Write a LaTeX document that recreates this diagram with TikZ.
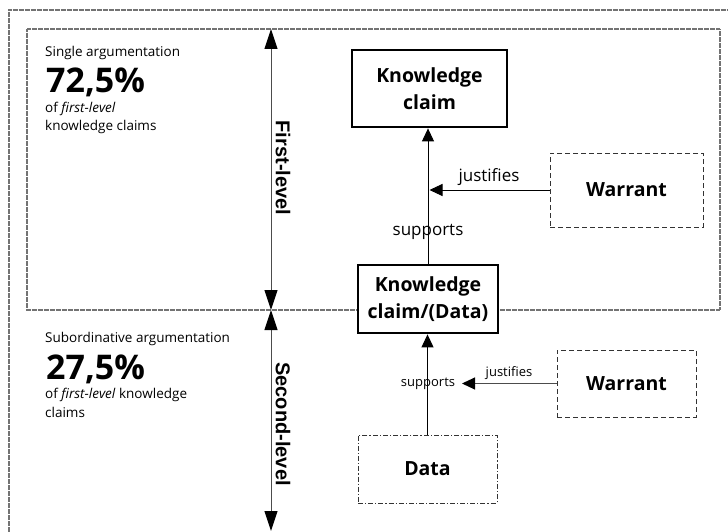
\documentclass[tikz,border=0pt]{standalone}
\usepackage{fontspec}
\setmainfont{Open Sans}
\newfontfamily\levelfont{Liberation Sans}
\usetikzlibrary{arrows.meta}

\tikzset{
  frame/.style={draw=black!55, line width=1.1pt, dash pattern=on 0.7pt off 0.5pt},
  claimbox/.style={draw, line width=2.8pt, align=center, inner sep=0pt,
    font=\fontsize{19.5}{27}\selectfont\bfseries},
  warrantbox/.style={draw=black!80, line width=1pt, dash pattern=on 5pt off 3pt,
    align=center, inner sep=0pt, font=\fontsize{19.5}{27}\selectfont\bfseries},
  databox/.style={draw=black!80, line width=1pt, dash pattern=on 5pt off 2pt on 1.2pt off 2pt,
    align=center, inner sep=0pt, font=\fontsize{19.5}{27}\selectfont\bfseries},
  levelarrow/.style={draw=black!70, line width=1pt,
    {Triangle[length=20pt,width=13pt,color=black]}-{Triangle[length=20pt,width=13pt,color=black]}},
  levellabel/.style={font=\levelfont\fontsize{20}{24}\selectfont\bfseries, rotate=-90, inner sep=0pt},
  link/.style={draw, line width=1pt, -{Triangle[length=13pt,width=12pt,color=black]}},
  bigtxt/.style={font=\fontsize{17}{20}\selectfont, inner sep=0pt},
  smalltxt/.style={font=\fontsize{13}{16}\selectfont, inner sep=0pt},
  sidetxt/.style={font=\fontsize{13.5}{18}\selectfont, anchor=base west, inner sep=0pt},
  pcttxt/.style={font=\fontsize{34}{40}\selectfont\bfseries, anchor=base west, inner sep=0pt},
}

\begin{document}
\begin{tikzpicture}[x=1pt, y=-1pt]
\useasboundingbox (0,0) rectangle (728,532);

% frames
\draw[frame] (9,532) -- (9,10) -- (728,10);
\draw[frame] (27,29) rectangle (720,310);

% level arrows
\coordinate (lvtop) at (271,29);
\coordinate (lvmid) at (271,310);
\coordinate (lvbot) at (271,531);
\draw[levelarrow] (lvtop) -- (lvmid);
\draw[levelarrow] (lvmid) -- (lvbot);
\node[levellabel] (first) at (283,168) {First-level};
\node[levellabel] (second) at (283,424) {Second-level};

% side statistics
\node[sidetxt] (single) at (45,57) {Single argumentation};
\node[pcttxt] (pctA) at (46,93) {72,5\%};
\node[sidetxt] (ofA) at (45,113) {of \textit{first-level}};
\node[sidetxt] (kcA) at (45,131) {knowledge claims};

\node[sidetxt] (subord) at (45,342) {Subordinative argumentation};
\node[pcttxt] (pctB) at (46,379) {27,5\%};
\node[sidetxt] (ofB) at (45,398) {of \textit{first-level} knowledge};
\node[sidetxt] (kcB) at (45,417) {claims};

% argument boxes
\node[claimbox, minimum width=155pt, minimum height=77pt] (kc) at (429.5,88.5) {Knowledge\\claim};
\node[claimbox, minimum width=140pt, minimum height=68pt, fill=white] (kcd) at (428,299) {Knowledge\\claim/(Data)};
\node[warrantbox, minimum width=153pt, minimum height=74pt] (wA) at (626.5,190) {Warrant};
\node[warrantbox, minimum width=139pt, minimum height=67pt] (wB) at (626.5,383.5) {Warrant};
\node[databox, minimum width=139pt, minimum height=68pt] (data) at (427.5,469) {Data};

% connectors
\draw[link] (kcd.north) -- (kcd.north |- kc.south);
\draw[link] (wA.west) -- (wA.west -| kc.south);
\node[bigtxt] (supA) at (428,232) {supports};
\node[bigtxt] (jusA) at (489,177) {justifies};

\coordinate (jusBend) at (462,383.5);
\draw[link] (data.north) -- (data.north |- kcd.south);
\draw[link, draw=black!70] (wB.west) -- (jusBend);
\node[smalltxt] (supB) at (428,384) {supports};
\node[smalltxt] (jusB) at (509,373) {justifies};
\end{tikzpicture}
\end{document}
